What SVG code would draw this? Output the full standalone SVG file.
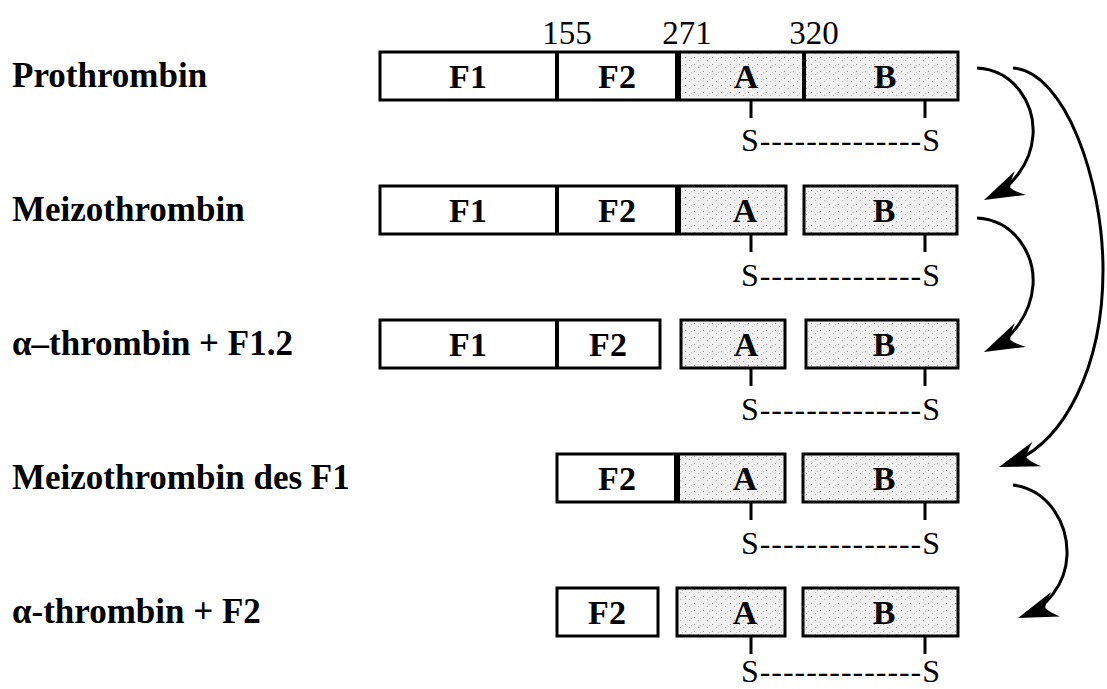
<svg xmlns="http://www.w3.org/2000/svg" width="1107" height="689" viewBox="0 0 1107 689">
<style>
.lbl{font-family:"Liberation Serif","Times New Roman",serif;font-weight:bold;font-size:35px;fill:#000}
.seg{font-family:"Liberation Serif","Times New Roman",serif;font-weight:bold;font-size:34px;fill:#000;text-anchor:middle}
.num{font-family:"Liberation Serif","Times New Roman",serif;font-size:33px;fill:#000;text-anchor:middle}
.ss{font-family:"Liberation Serif","Times New Roman",serif;font-size:32px;fill:#000}
.box{fill:none;stroke:#000;stroke-width:3}
.div{stroke:#000;stroke-width:4}
.divk{stroke:#000;stroke-width:6}
.tick{stroke:#000;stroke-width:3}
.wht{fill:#fff}
.dot{fill:url(#stip)}
.arc{fill:none;stroke:#000;stroke-width:3}
.hd{fill:#000}
</style>
<defs>
<pattern id="stip" width="9" height="7" patternUnits="userSpaceOnUse">
<rect width="9" height="7" fill="#f0f0f0"/>
<rect x="1" y="1" width="1" height="1" fill="#8a8a8a"/>
<rect x="5" y="4" width="1" height="1" fill="#a8a8a8"/>
<rect x="7" y="2" width="1" height="1" fill="#c4c4c4"/>
</pattern>
<path id="head" d="M0,0 L-40,-13 Q-31,-5 -29,0 Q-31,5 -40,13 Z"/>
</defs>
<rect width="1107" height="689" fill="#fff"/>

<g id="numbers">
<text class="num" x="567" y="44">155</text>
<text class="num" x="687" y="44">271</text>
<text class="num" x="814" y="44">320</text>
</g>

<g id="row1">
<text class="lbl" x="12" y="87">Prothrombin</text>
<rect class="wht" x="380" y="52" width="298" height="48"/>
<rect class="dot" x="678" y="52" width="280" height="48"/>
<rect class="box" x="380" y="52" width="578" height="48"/>
<line class="div" x1="557" y1="52" x2="557" y2="100"/>
<line class="divk" x1="678" y1="52" x2="678" y2="100"/>
<line class="div" x1="804" y1="52" x2="804" y2="100"/>
<text class="seg" x="468" y="88">F1</text>
<text class="seg" x="617" y="88">F2</text>
<text class="seg" x="746" y="88">A</text>
<text class="seg" x="885" y="88">B</text>
<line class="tick" x1="751" y1="100" x2="751" y2="118"/>
<line class="tick" x1="925" y1="100" x2="925" y2="118"/>
<text class="ss" x="741" y="151" textLength="199" lengthAdjust="spacing">S--------------S</text>
</g>

<g id="row2">
<text class="lbl" x="12" y="221">Meizothrombin</text>
<rect class="wht" x="380" y="186" width="298" height="48"/>
<rect class="dot" x="678" y="186" width="108" height="48"/>
<rect class="dot" x="804" y="186" width="153" height="48"/>
<rect class="box" x="380" y="186" width="406" height="48"/>
<line class="div" x1="557" y1="186" x2="557" y2="234"/>
<line class="divk" x1="678" y1="186" x2="678" y2="234"/>
<rect class="box" x="804" y="186" width="153" height="48"/>
<text class="seg" x="468" y="222">F1</text>
<text class="seg" x="617" y="222">F2</text>
<text class="seg" x="745" y="222">A</text>
<text class="seg" x="884" y="222">B</text>
<line class="tick" x1="751" y1="234" x2="751" y2="252"/>
<line class="tick" x1="925" y1="234" x2="925" y2="252"/>
<text class="ss" x="741" y="286" textLength="199" lengthAdjust="spacing">S--------------S</text>
</g>

<g id="row3">
<text class="lbl" x="12" y="355">α–thrombin + F1.2</text>
<rect class="wht" x="380" y="320" width="280" height="48"/>
<rect class="dot" x="681" y="320" width="104" height="48"/>
<rect class="dot" x="806" y="320" width="152" height="48"/>
<rect class="box" x="380" y="320" width="280" height="48"/>
<line class="div" x1="557" y1="320" x2="557" y2="368"/>
<rect class="box" x="681" y="320" width="104" height="48"/>
<rect class="box" x="806" y="320" width="152" height="48"/>
<text class="seg" x="468" y="356">F1</text>
<text class="seg" x="608" y="356">F2</text>
<text class="seg" x="746" y="356">A</text>
<text class="seg" x="884" y="356">B</text>
<line class="tick" x1="751" y1="368" x2="751" y2="386"/>
<line class="tick" x1="925" y1="368" x2="925" y2="386"/>
<text class="ss" x="741" y="420" textLength="199" lengthAdjust="spacing">S--------------S</text>
</g>

<g id="row4">
<text class="lbl" x="12" y="489">Meizothrombin des F1</text>
<rect class="wht" x="557" y="454" width="120" height="48"/>
<rect class="dot" x="677" y="454" width="108" height="48"/>
<rect class="dot" x="803" y="454" width="155" height="48"/>
<rect class="box" x="557" y="454" width="228" height="48"/>
<line class="divk" x1="677" y1="454" x2="677" y2="502"/>
<rect class="box" x="803" y="454" width="155" height="48"/>
<text class="seg" x="617" y="490">F2</text>
<text class="seg" x="745" y="490">A</text>
<text class="seg" x="884" y="490">B</text>
<line class="tick" x1="751" y1="502" x2="751" y2="520"/>
<line class="tick" x1="925" y1="502" x2="925" y2="520"/>
<text class="ss" x="741" y="554" textLength="199" lengthAdjust="spacing">S--------------S</text>
</g>

<g id="row5">
<text class="lbl" x="12" y="623">α-thrombin + F2</text>
<rect class="wht" x="557" y="588" width="101" height="48"/>
<rect class="dot" x="677" y="588" width="108" height="48"/>
<rect class="dot" x="803" y="588" width="155" height="48"/>
<rect class="box" x="557" y="588" width="101" height="48"/>
<rect class="box" x="677" y="588" width="108" height="48"/>
<rect class="box" x="803" y="588" width="155" height="48"/>
<text class="seg" x="607" y="624">F2</text>
<text class="seg" x="745" y="624">A</text>
<text class="seg" x="884" y="624">B</text>
<line class="tick" x1="751" y1="636" x2="751" y2="654"/>
<line class="tick" x1="925" y1="636" x2="925" y2="654"/>
<text class="ss" x="741" y="682" textLength="199" lengthAdjust="spacing">S--------------S</text>
</g>

<g id="connectors">
<path class="arc" d="M977,68 C1015,70 1035,105 1033,135 C1031,165 1010,188 992,196"/>
<use href="#head" class="hd" transform="translate(984,200) rotate(155)"/>
<path class="arc" d="M977,218 C1015,220 1035,255 1033,285 C1031,315 1010,340 992,348"/>
<use href="#head" class="hd" transform="translate(984,352) rotate(155)"/>
<path class="arc" d="M1013,68 C1065,72 1103,180 1103,270 C1103,365 1065,445 1007,464"/>
<use href="#head" class="hd" transform="translate(999,467) rotate(161)"/>
<path class="arc" d="M1013,485 C1050,490 1068,525 1067,555 C1066,585 1045,608 1026,615"/>
<use href="#head" class="hd" transform="translate(1018,618) rotate(160)"/>
</g>
</svg>
